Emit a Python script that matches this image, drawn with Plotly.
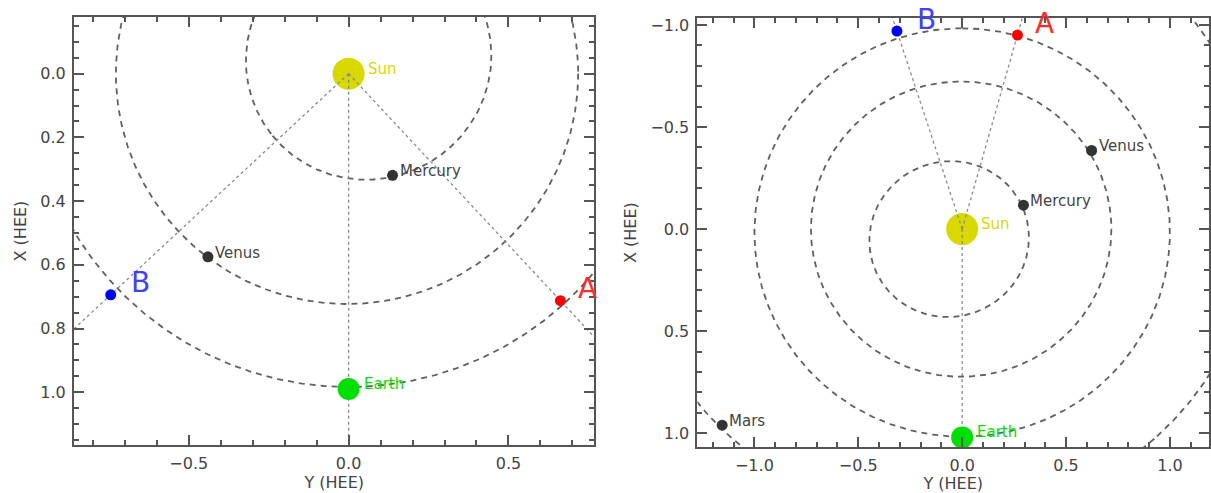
import numpy as np
import plotly.graph_objects as go

# ---------------- data ----------------
# positions in HEE: (Y, X) in AU
left_names = ["Mercury", "Venus"]
left_planet_y = [0.1375, -0.44]
left_planet_x = [0.319, 0.575]
left_earth = (0.0, 0.99)
left_A = (0.6625, 0.7125)
left_B = (-0.744, 0.694)

right_names = ["Mercury", "Venus", "Mars"]
right_planet_y = [0.295, 0.623, -1.155]
right_planet_x = [-0.117, -0.385, 0.96]
right_earth = (0.0, 1.02)
right_A = (0.266, -0.95)
right_B = (-0.314, -0.97)

# orbits: semi-major axis (AU), eccentricity, perihelion direction (deg, in Y-X plane)
left_orbit_a = [0.387, 0.723, 1.0]
left_orbit_e = [0.2056, 0.0068, 0.0167]
left_orbit_peri = [142.0, 0.0, 90.0]

right_orbit_a = [0.387, 0.723, 1.0, 1.524]
right_orbit_e = [0.2056, 0.0068, 0.0167, 0.0934]
right_orbit_peri = [-38.0, 0.0, -90.0, 48.0]

# axis ranges
left_xrange = [-0.859, 0.769]
left_yrange = [1.166, -0.178]
right_xrange = [-1.274, 1.188]
right_yrange = [1.068, -1.034]

SUN_C = "#d9d900"
EARTH_C = "#00e000"
GREY_T = "#444444"
ORBIT_C = "#606060"
LINE_C = "#8a8a8a"
FONT = "DejaVu Sans"

fig = go.Figure()


def orbit_xy(a, e, peri_deg):
    nu = np.linspace(0, 2 * np.pi, 721)
    r = a * (1 - e ** 2) / (1 + e * np.cos(nu))
    th = np.deg2rad(peri_deg) + nu
    return r * np.cos(th), r * np.sin(th)


def add_panel(xr, yr, orbits, names, py, px, earth, A, B):
    ax = dict(xaxis=xr, yaxis=yr)
    # orbits
    for a, e, p in zip(*orbits):
        oy, ox = orbit_xy(a, e, p)
        fig.add_trace(go.Scatter(x=oy, y=ox, mode="lines",
                                 line=dict(color=ORBIT_C, width=1.8, dash="6px,5px"),
                                 hoverinfo="skip", showlegend=False, **ax))
    # sun
    fig.add_trace(go.Scatter(x=[0], y=[0], mode="markers",
                             marker=dict(size=32, color=SUN_C, line=dict(width=0)),
                             showlegend=False, **ax))
    # sun-target lines
    for t in (A, B, earth):
        d = np.hypot(t[0], t[1])
        L = 1.8 / d
        fig.add_trace(go.Scatter(x=[0, t[0] * L], y=[0, t[1] * L], mode="lines",
                                 line=dict(color=LINE_C, width=1.3, dash="dot"),
                                 hoverinfo="skip", showlegend=False, **ax))
    # planets
    fig.add_trace(go.Scatter(x=py, y=px, mode="markers",
                             marker=dict(size=11, color="#333333"),
                             showlegend=False, cliponaxis=False, **ax))
    fig.add_trace(go.Scatter(x=[earth[0]], y=[earth[1]], mode="markers",
                             marker=dict(size=22, color=EARTH_C),
                             showlegend=False, cliponaxis=False, **ax))
    fig.add_trace(go.Scatter(x=[A[0]], y=[A[1]], mode="markers",
                             marker=dict(size=11, color="#ff0000"),
                             showlegend=False, cliponaxis=False, **ax))
    fig.add_trace(go.Scatter(x=[B[0]], y=[B[1]], mode="markers",
                             marker=dict(size=11, color="#0000ff"),
                             showlegend=False, cliponaxis=False, **ax))

    def lab(x, y, text, color, size, xs, ys):
        fig.add_annotation(x=x, y=y, xref=xr, yref=yr, text=text, showarrow=False,
                           xanchor="left", yanchor="middle", xshift=xs, yshift=ys,
                           font=dict(family=FONT, size=size, color=color))

    lab(0, 0, "Sun", SUN_C, 15, 17, 5)
    lab(earth[0], earth[1], "Earth", EARTH_C, 15, 13, 5)
    for n, yy, xx in zip(names, py, px):
        lab(yy, xx, n, GREY_T, 15, 5, 4)
    lab(A[0], A[1], "A", "#ff2a2a", 28, 16, 12)
    lab(B[0], B[1], "B", "#4040ff", 28, 18, 12)


add_panel("x", "y", (left_orbit_a, left_orbit_e, left_orbit_peri),
          left_names, left_planet_y, left_planet_x, left_earth, left_A, left_B)
add_panel("x2", "y2", (right_orbit_a, right_orbit_e, right_orbit_peri),
          right_names, right_planet_y, right_planet_x, right_earth, right_A, right_B)


def axis_style(rng, dom, dt, mdt, title, anchor, standoff):
    return dict(range=rng, domain=dom, anchor=anchor, dtick=dt, tick0=0,
                tickformat=".1f", ticks="inside", ticklen=10, tickwidth=1.5,
                tickcolor="#555555", showline=True, linecolor="#555555", linewidth=2,
                mirror="ticks", showgrid=False, zeroline=False,
                minor=dict(dtick=mdt, tick0=0, ticks="inside", ticklen=5,
                           tickwidth=1.5, tickcolor="#555555", showgrid=False),
                tickfont=dict(family=FONT, size=16, color=GREY_T),
                title=dict(text=title, font=dict(family=FONT, size=16, color=GREY_T),
                           standoff=standoff),
                ticklabelstandoff=3)


fig.update_layout(
    width=1211, height=493, margin=dict(l=0, r=0, t=0, b=0),
    paper_bgcolor="white", plot_bgcolor="white",
    xaxis=axis_style(left_xrange, [0.0611, 0.4913], 0.5, 0.1, "Y (HEE)", "y", 0),
    yaxis=axis_style(left_yrange, [0.0974, 0.9696], 0.2, 0.05, "X (HEE)", "x", 10),
    xaxis2=axis_style(right_xrange, [0.5764, 0.9992], 0.5, 0.1, "Y (HEE)", "y2", 0),
    yaxis2=axis_style(right_yrange, [0.0933, 0.9675], 0.5, 0.1, "X (HEE)", "x2", 10),
)

fig.write_html("out.html")
